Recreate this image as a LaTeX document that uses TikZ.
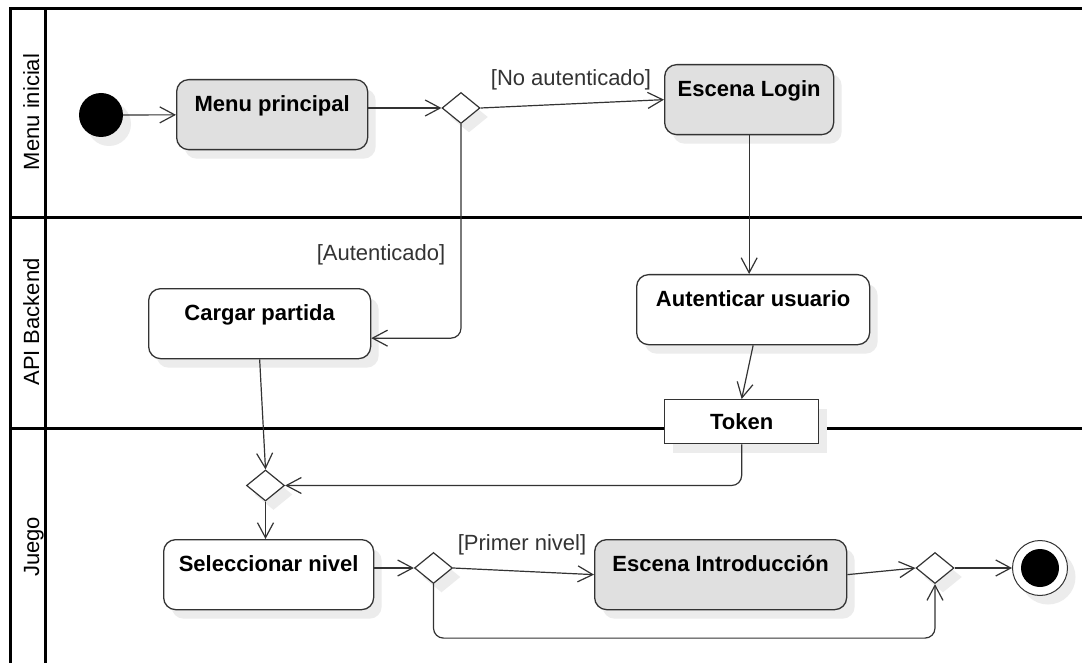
\documentclass[tikz,border=0pt]{standalone}
\usepackage{fontspec}
\setmainfont{Liberation Sans}
\usetikzlibrary{arrows.meta,shapes.geometric,shadows}

\definecolor{ink}{HTML}{333333}
\definecolor{actfill}{HTML}{E0E0E0}
\definecolor{shadowgray}{HTML}{ECECEC}

\tikzset{
  lane/.style={line width=3pt, black},
  lanelabel/.style={rotate=90, font=\fontsize{22}{26}\selectfont, text=black,
    inner sep=0pt, text height=16pt, text depth=0pt},
  shadowed/.style={drop shadow={shadow xshift=8pt, shadow yshift=-9pt,
    fill=shadowgray, opacity=1}},
  act/.style={draw=ink, line width=1.3pt, rounded corners=12pt, fill=white,
    shadowed, font=\fontsize{22}{26}\selectfont\bfseries,
    inner xsep=0pt, inner ysep=0pt, text height=31.5pt, text depth=38.5pt,
    anchor=north west},
  greyact/.style={fill=actfill},
  decision/.style={diamond, draw=ink, line width=1.2pt, fill=white, shadowed,
    minimum width=38pt, minimum height=31pt, inner sep=0pt},
  flow/.style={draw=ink, line width=1.2pt,
    -{Straight Barb[length=15pt,width=16pt,line width=1.2pt]}},
  guard/.style={font=\fontsize{22}{26}\selectfont, text=ink, inner sep=0pt},
}

\begin{document}
\begin{tikzpicture}[x=1pt, y=-1pt]
  \useasboundingbox (0,0) rectangle (1082,663);
  \fill[white] (0,0) rectangle (1082,663);

  % swimlane frame
  \draw[lane] (10,663) -- (10,9) -- (1082,9);
  \draw[lane] (45,9) -- (45,663);
  \draw[lane] (10,218) -- (1082,218);
  \draw[lane] (10,428) -- (1082,428);

  \node[lanelabel] (laneMenu) at (31,112) {Menu inicial};
  \node[lanelabel] (laneApi)  at (31,322) {API Backend};
  \node[lanelabel] (laneGame) at (31,547) {Juego};

  % start / end
  \node[circle, fill=black, minimum size=44pt, inner sep=0pt, shadowed] (init) at (101,115) {};
  \node[circle, draw=ink, line width=1pt, fill=white, minimum size=55pt, inner sep=0pt, shadowed] (fin) at (1040,568) {};
  \node[circle, fill=black, minimum size=38pt, inner sep=0pt] (finin) at (fin.center) {};

  % activities
  \node[act, greyact, minimum width=191pt] (mp)     at (176,79)  {Menu principal};
  \node[act, greyact, minimum width=169pt] (login)  at (664,64)  {Escena Login};
  \node[act, minimum width=222pt]          (cargar) at (148,288) {Cargar partida};
  \node[act, minimum width=233pt]          (auth)   at (636,274) {Autenticar usuario};
  \node[act, minimum width=210pt]          (sel)    at (163,539) {Seleccionar nivel};
  \node[act, greyact, minimum width=252pt] (intro)  at (594,539) {Escena Introducción};

  % object node
  \node[draw=ink, line width=1.3pt, fill=white, shadowed, minimum width=154pt,
        minimum height=44pt, inner sep=0pt, anchor=north west,
        font=\fontsize{22}{26}\selectfont\bfseries] (token) at (664,399) {Token};

  % decisions / merges
  \node[decision] (d1) at (461,108) {};
  \node[decision] (d2) at (265.5,485.5) {};
  \node[decision] (d3) at (433.5,568) {};
  \node[decision] (d4) at (935,568) {};

  % control flow
  \draw[flow] (init) -- (mp);
  \draw[flow] (mp.east |- d1.west) -- (d1.west);
  \draw[flow] (d1.east) -- (login.west);
  \draw[flow, rounded corners=10pt] (d1.south) |- ([yshift=-14.5pt]cargar.east);
  \draw[flow] (login.south) -- (login.south |- auth.north);
  \draw[flow] (auth.south) -- (token.north);
  \draw[flow, rounded corners=10pt] (token.south) |- (d2.east);
  \draw[flow] (cargar.south) -- (d2.north);
  \draw[flow] (d2.south) -- (d2.south |- sel.north);
  \draw[flow] (sel.east |- d3.west) -- (d3.west);
  \draw[flow] (d3.east) -- (intro.west);
  \draw[flow] (intro.east) -- (d4.west);
  \draw[flow, rounded corners=10pt] (d3.south) -- ++(0,54) -| (d4.south);
  \draw[flow] (d4.east) -- (fin);

  % guards
  \node[guard] (gNoAuth) at (571,80)  {[No autenticado]};
  \node[guard] (gAuth)   at (381,255) {[Autenticado]};
  \node[guard] (gFirst)  at (522,545) {[Primer nivel]};
\end{tikzpicture}
\end{document}
